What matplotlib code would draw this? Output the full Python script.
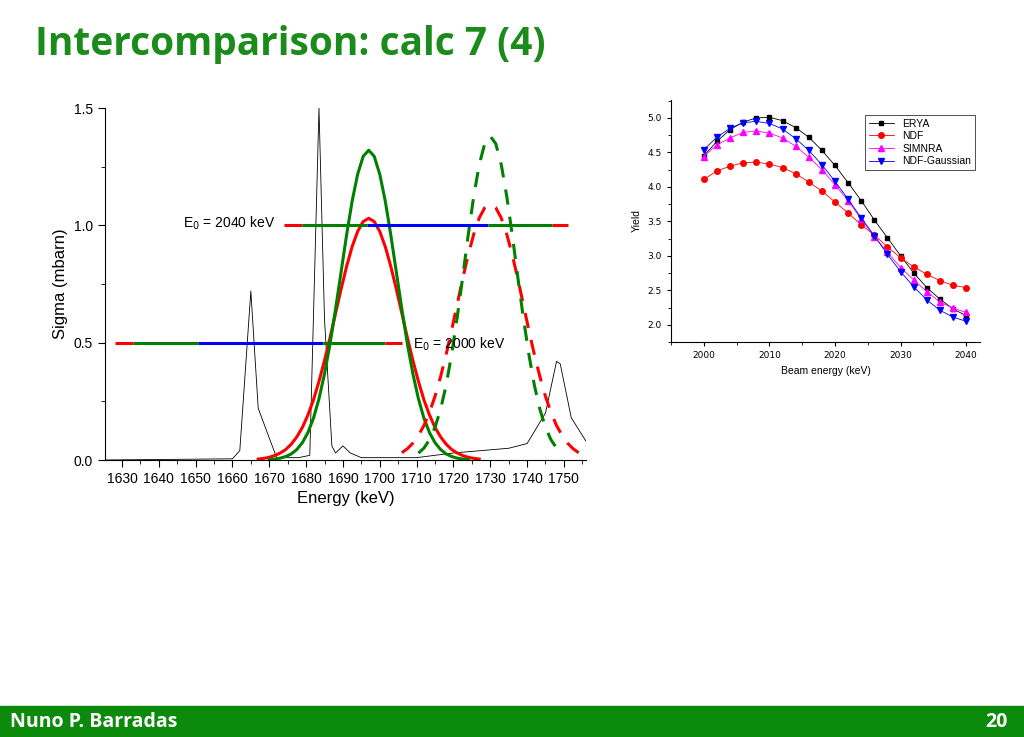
import matplotlib
matplotlib.use("Agg")
import matplotlib.pyplot as plt
from matplotlib.ticker import MultipleLocator
from matplotlib.patches import Rectangle

# ---- left chart data ----
spec_E = [1625, 1660, 1662, 1665, 1667, 1672, 1678, 1681, 1683.5, 1685, 1687, 1688, 1690, 1692, 1695, 1710, 1720, 1735, 1740, 1745, 1748, 1749, 1752, 1756]
spec_S = [0.0, 0.005, 0.04, 0.72, 0.22, 0.01, 0.01, 0.02, 1.5, 0.6, 0.06, 0.03, 0.06, 0.03, 0.01, 0.01, 0.03, 0.05, 0.07, 0.2, 0.42, 0.41, 0.18, 0.08]

# half-widths (keV offset from peak centre) and read values, one side; curves symmetric
off_g = [0, 1.5, 3, 4.5, 6, 7.5, 9, 10.5, 12, 13.5, 15, 16.5, 18, 19.5, 21, 22.5, 24, 25.5, 27]
green_solid_half = [1.32, 1.294, 1.218, 1.103, 0.959, 0.801, 0.643, 0.495, 0.367, 0.261, 0.178, 0.117, 0.074, 0.045, 0.026, 0.015, 0.008, 0.004, 0.0015]
off_r = [0, 1.5, 3, 4.5, 6, 7.5, 9, 10.5, 12, 13.5, 15, 16.5, 18, 19.5, 21, 22.5, 24, 25.5, 27, 28.5, 30]
red_solid_half = [1.03, 1.016, 0.974, 0.909, 0.825, 0.728, 0.625, 0.521, 0.424, 0.335, 0.256, 0.192, 0.139, 0.099, 0.068, 0.045, 0.030, 0.019, 0.0115, 0.007, 0.004]
off_gd = [0, 1.5, 3, 4.5, 6, 7.5, 9, 10.5, 12, 13.5, 15, 16.5, 18, 19.5]
green_dash_half = [1.38, 1.348, 1.258, 1.122, 0.957, 0.777, 0.605, 0.449, 0.317, 0.215, 0.139, 0.086, 0.051, 0.029]
off_rd = [0, 1.5, 3, 4.5, 6, 7.5, 9, 10.5, 12, 13.5, 15, 16.5, 18, 19.5, 21, 22.5, 24]
red_dash_half = [1.09, 1.075, 1.031, 0.961, 0.873, 0.771, 0.662, 0.552, 0.448, 0.354, 0.271, 0.203, 0.147, 0.105, 0.072, 0.048, 0.031]
center_solid = 1697
center_dash = 1730

# horizontal bars: (start, end, color)
bar_hi = [(1674, 1679, "red"), (1679, 1696.5, "green"), (1696.5, 1729.5, "blue"), (1729.5, 1746.7, "green"), (1746.7, 1751, "red")]
bar_lo = [(1628, 1633, "red"), (1633, 1650.6, "green"), (1650.6, 1684.6, "blue"), (1684.6, 1701.4, "green"), (1701.4, 1706, "red")]

# ---- right chart data ----
beam = list(range(2000, 2041, 2))
erya = [4.45, 4.66, 4.83, 4.94, 5.00, 5.01, 4.96, 4.86, 4.72, 4.53, 4.31, 4.06, 3.80, 3.52, 3.26, 3.00, 2.75, 2.54, 2.37, 2.23, 2.13]
ndf = [4.11, 4.23, 4.30, 4.35, 4.36, 4.33, 4.28, 4.19, 4.07, 3.94, 3.78, 3.62, 3.45, 3.30, 3.13, 2.97, 2.84, 2.73, 2.64, 2.57, 2.54]
simnra = [4.44, 4.61, 4.71, 4.79, 4.81, 4.78, 4.71, 4.59, 4.43, 4.25, 4.03, 3.80, 3.53, 3.28, 3.05, 2.83, 2.65, 2.48, 2.33, 2.24, 2.18]
ndfg = [4.54, 4.72, 4.85, 4.93, 4.95, 4.92, 4.84, 4.70, 4.53, 4.32, 4.08, 3.82, 3.55, 3.29, 3.02, 2.77, 2.55, 2.36, 2.21, 2.11, 2.05]


def full_curve(center, offs, half):
    xs = [center - d for d in offs[:0:-1]] + [center + d for d in offs]
    ys = half[:0:-1] + half
    return xs, ys


W, H = 1024, 737
fig = plt.figure(figsize=(W / 100, H / 100), dpi=100)
green_title = "#1b8c1b"

fig.text(35 / W, 1 - 45 / H, "Intercomparison: calc 7 (4)", color=green_title,
         fontsize=28, fontweight="bold", family="Open Sans", va="center", ha="left")
fig.patches.append(Rectangle((0, 0), 1, 31 / H, transform=fig.transFigure, color="#0b8a0b", zorder=0))
fig.text(10 / W, 15 / H, "Nuno P. Barradas", color="white", fontsize=14, fontweight="bold",
         family="Open Sans", va="center")
fig.text(1008 / W, 15 / H, "20", color="white", fontsize=14, fontweight="bold",
         family="Open Sans", va="center", ha="right")

# left axes
ax = fig.add_axes([105 / W, 1 - 460 / H, (586 - 105) / W, (460 - 108) / H])
ax.plot(spec_E, spec_S, color="black", lw=0.6)
x, y = full_curve(center_solid, off_r, red_solid_half)
ax.plot(x, y, color="red", lw=2.2)
x, y = full_curve(center_solid, off_g, green_solid_half)
ax.plot(x, y, color="green", lw=2.2)
x, y = full_curve(center_dash, off_rd, red_dash_half)
ax.plot(x, y, color="red", lw=2.2, ls=(0, (5, 4)))
x, y = full_curve(center_dash, off_gd, green_dash_half)
ax.plot(x, y, color="green", lw=2.2, ls=(0, (5, 4)))
for s, e, c in bar_hi:
    ax.plot([s, e], [1.0, 1.0], color=c, lw=2.2, solid_capstyle="butt")
for s, e, c in bar_lo:
    ax.plot([s, e], [0.5, 0.5], color=c, lw=2.2, solid_capstyle="butt")
ax.text(1646.5, 1.01, "E$_0$ = 2040 keV", fontsize=10, va="center", ha="left", family="Liberation Sans")
ax.text(1709, 0.495, "E$_0$ = 2000 keV", fontsize=10, va="center", ha="left", family="Liberation Sans")
ax.set_xlim(1625.4, 1756)
ax.set_ylim(0, 1.5)
ax.xaxis.set_major_locator(MultipleLocator(10))
ax.xaxis.set_minor_locator(MultipleLocator(5))
ax.yaxis.set_major_locator(MultipleLocator(0.5))
ax.yaxis.set_minor_locator(MultipleLocator(0.25))
ax.spines["top"].set_visible(False)
ax.spines["right"].set_visible(False)
ax.tick_params(which="both", direction="out", labelsize=10)
ax.tick_params(which="major", length=5)
ax.tick_params(which="minor", length=3)
for lab in ax.get_xticklabels() + ax.get_yticklabels():
    lab.set_family("Liberation Sans")
ax.set_xlabel("Energy (keV)", fontsize=12, family="Liberation Sans")
ax.set_ylabel("Sigma (mbarn)", fontsize=12, family="Liberation Sans")

# right axes
ax2 = fig.add_axes([671 / W, 1 - 342 / H, (980 - 671) / W, (342 - 100) / H])
ax2.plot(beam, erya, color="black", lw=0.6, marker="s", ms=3.5, label="ERYA")
ax2.plot(beam, ndf, color="red", lw=0.6, marker="o", ms=4, label="NDF")
ax2.plot(beam, simnra, color="magenta", lw=0.6, marker="^", ms=4.2, label="SIMNRA")
ax2.plot(beam, ndfg, color="blue", lw=0.6, marker="v", ms=4.2, label="NDF-Gaussian")
ax2.set_xlim(1995, 2042.1)
ax2.set_ylim(1.75, 5.26)
ax2.xaxis.set_major_locator(MultipleLocator(10))
ax2.xaxis.set_minor_locator(MultipleLocator(5))
ax2.yaxis.set_major_locator(MultipleLocator(0.5))
ax2.yaxis.set_minor_locator(MultipleLocator(0.25))
ax2.spines["top"].set_visible(False)
ax2.spines["right"].set_visible(False)
ax2.tick_params(which="both", direction="out", labelsize=6.5)
ax2.tick_params(which="major", length=3)
ax2.tick_params(which="minor", length=2)
ax2.set_xlabel("Beam energy (keV)", fontsize=7.5, family="Liberation Sans")
ax2.set_ylabel("Yield", fontsize=7.5, family="Liberation Sans")
leg = ax2.legend(loc="upper right", fontsize=7.5, frameon=True, fancybox=False,
                 edgecolor="black", handlelength=2.4, borderpad=0.35, labelspacing=0.25,
                 bbox_to_anchor=(1.0, 0.96), prop={"family": "Liberation Sans", "size": 7.5})
leg.get_frame().set_linewidth(0.6)

fig.savefig("out.png", dpi=100)
